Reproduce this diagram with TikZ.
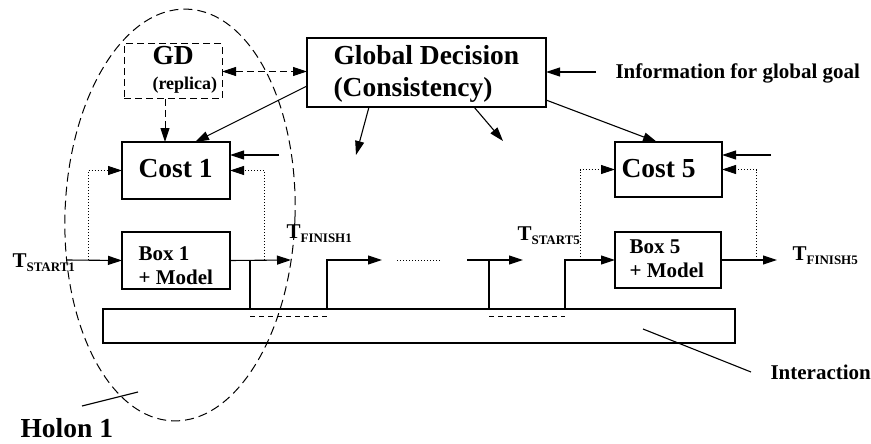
\documentclass[tikz,border=0pt]{standalone}
\usepackage{fontspec}
\setmainfont{Liberation Serif}
\usetikzlibrary{arrows.meta,shapes.geometric,calc}
\newcommand\tlabel[1]{T\raisebox{-4pt}{\fontsize{13}{13}\selectfont #1}}
\begin{document}
\begin{tikzpicture}[x=1pt,y=-1pt,
  line width=1.1pt,
  >={Triangle[length=14pt,width=9pt]},
  blk/.style={draw,rectangle,inner sep=0pt,outer sep=0pt},
  big/.style={inner sep=0pt,anchor=base west,font=\bfseries\fontsize{27.5}{30}\selectfont},
  mid/.style={inner sep=0pt,anchor=base west,font=\bfseries\fontsize{21}{24}\selectfont},
  small/.style={inner sep=0pt,anchor=base west,font=\bfseries\fontsize{18}{20}\selectfont},
  dash1/.style={dash pattern=on 7pt off 4pt,line width=1pt},
  dash2/.style={dash pattern=on 5pt off 4pt,line width=1pt},
  dots/.style={dash pattern=on 1pt off 2pt,line width=0.9pt},
]
\useasboundingbox (0,0) rectangle (871,444);

% holon boundary
\node[draw,ellipse,dash pattern=on 9pt off 5pt,line width=1pt,
      minimum width=230pt,minimum height=412pt,inner sep=0pt,rotate=-2] (holon) at (180,215) {};

% boxes
\node[blk,dash1,minimum width=98pt,minimum height=55pt] (gd) at (173,71.5) {};
\node[blk,minimum width=239pt,minimum height=69pt] (glob) at (426.5,72.5) {};
\node[blk,minimum width=108pt,minimum height=57pt] (cost1) at (176,170.5) {};
\node[blk,minimum width=107pt,minimum height=55pt] (cost5) at (668.5,169.5) {};
\node[blk,minimum width=108pt,minimum height=57pt] (box1) at (176,260.5) {};
\node[blk,minimum width=106pt,minimum height=56pt] (box5) at (668,260) {};
\node[blk,minimum width=632pt,minimum height=34pt] (inter) at (419,326) {};

% texts
\node[big] (gdt) at (152,65) {GD};
\node[small] (gdr) at (152,90) {(replica)};
\node[big] (globa) at (333,65) {Global Decision};
\node[big] (globb) at (333,97) {(Consistency)};
\node[mid] (infot) at (615,79) {Information for global goal};
\node[big] (c1t) at (138,177) {Cost 1};
\node[big] (c5t) at (621,177) {Cost 5};
\node[mid] (b1a) at (138,260) {Box 1};
\node[mid] (b1b) at (138,284) {+ Model};
\node[mid] (b5a) at (629,253) {Box 5};
\node[mid] (b5b) at (629,277) {+ Model};
\node[mid] (ts1) at (12,267) {\tlabel{START1}};
\node[mid] (tf1) at (286,238) {\tlabel{FINISH1}};
\node[mid] (ts5) at (517,240) {\tlabel{START5}};
\node[mid] (tf5) at (792,260) {\tlabel{FINISH5}};
\node[mid] (intt) at (770,379) {Interaction};
\node[big] (holt) at (20,437) {Holon 1};

% free ends
\coordinate (info) at (596,72);
\coordinate (gdS) at ([xshift=-8pt]gd.south);
\coordinate (mid1) at (356,155);
\coordinate (mid2) at (503,141);
\coordinate (c1in) at (279,155);
\coordinate (c5in) at (771,155);
\coordinate (s1) at (67,260);
\coordinate (fb1l) at (88,260);
\coordinate (fb1r) at (264,260);
\coordinate (f1) at (291,260);
\coordinate (j1) at (250,260);
\coordinate (j2) at (327,260);
\coordinate (a2) at (382,260);
\coordinate (d1) at (397,260);
\coordinate (d2) at (440,260);
\coordinate (s5a) at (467,260);
\coordinate (s5b) at (523,260);
\coordinate (j3) at (489,260);
\coordinate (j4) at (565,260);
\coordinate (fb5l) at (580,260);
\coordinate (fb5r) at (756,260);
\coordinate (f5) at (777,260);
\coordinate (ia) at (643,329);
\coordinate (ib) at (751,372);
\coordinate (ha) at (82,406);
\coordinate (hb) at (138,392);

% global decision links
\draw[dash1,<->] (gd.east) -- (gd.east -| glob.west);
\draw[->] (info) -- (info -| glob.east);
\draw[->] ([yshift=21pt]glob.south west) -- ([xshift=19pt]cost1.north);
\draw[->] ([yshift=7pt]glob.south east) -- ([xshift=-11.5pt]cost5.north);
\draw[->] ([xshift=-57.5pt]glob.south) -- (mid1);
\draw[->] ([xshift=47.5pt]glob.south) -- (mid2);
\draw[dash1,->] (gdS) -- (gdS |- cost1.north);
\draw[->] (c1in) -- (c1in -| cost1.east);
\draw[->] (c5in) -- (c5in -| cost5.east);

% feedback to cost evaluation
\draw[dots,->] (fb1l) -- (fb1l |- cost1.west) -- (cost1.west);
\draw[dots,->] (fb1r) -- (fb1r |- cost1.east) -- (cost1.east);
\draw[dots,->] (fb5l) -- (fb5l |- cost5.west) -- (cost5.west);
\draw[dots,->] (fb5r) -- (fb5r |- cost5.east) -- (cost5.east);

% time line
\draw[->] (s1) -- (box1.west);
\draw[->] (box1.east) -- (f1);
\draw (j1) -- (j1 |- inter.north);
\draw[->] (j2 |- inter.north) -- (j2) -- (a2);
\draw[dots] (d1) -- (d2);
\draw[->] (s5a) -- (s5b);
\draw (j3) -- (j3 |- inter.north);
\draw[->] (j4 |- inter.north) -- (j4) -- (box5.west);
\draw[->] (box5.east) -- (f5);
\draw[dash2] ([yshift=-7pt]j1 |- inter.north) -- ([yshift=-7pt]j2 |- inter.north);
\draw[dash2] ([yshift=-7pt]j3 |- inter.north) -- ([yshift=-7pt]j4 |- inter.north);

% leaders
\draw (ia) -- (ib);
\draw (ha) -- (hb);
\end{tikzpicture}
\end{document}
